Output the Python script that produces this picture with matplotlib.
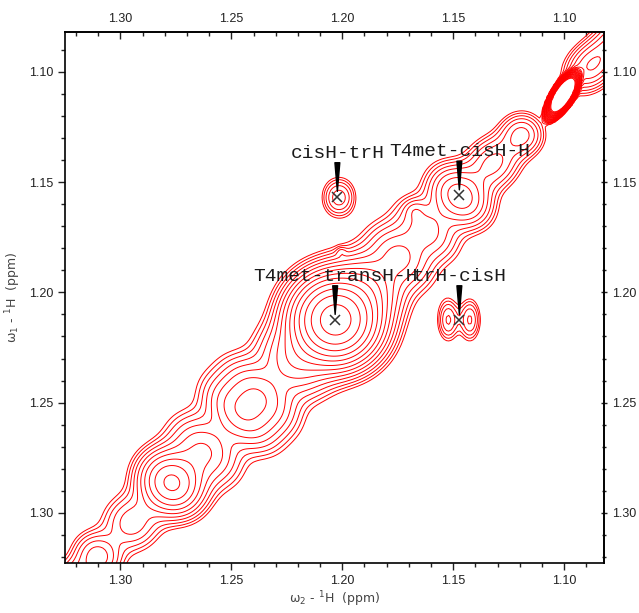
import numpy as np
import matplotlib
matplotlib.use('Agg')
import matplotlib.pyplot as plt
from matplotlib.ticker import FixedLocator, FormatStrFormatter

# diagonal peaks (w2 position, w1 = w2 + offset), height, width along / across diagonal
diag_offset = 0.0095
diag_x = [1.338, 1.322, 1.310, 1.295, 1.277, 1.262, 1.246, 1.237, 1.223, 1.203, 1.186, 1.174, 1.162, 1.147, 1.132, 1.119, 1.088, 1.075]
diag_amp = [5.0, 4.0, 5.0, 4.0, 16.0, 6.0, 7.0, 7.0, 6.0, 60.0, 6.0, 6.0, 5.0, 10.0, 5.0, 5.0, 6.0, 5.0]
diag_sa = [0.010, 0.008, 0.006, 0.008, 0.008, 0.008, 0.007, 0.007, 0.008, 0.011, 0.008, 0.007, 0.007, 0.007, 0.008, 0.006, 0.008, 0.008]
diag_sp = [0.006, 0.006, 0.007, 0.008, 0.009, 0.011, 0.012, 0.012, 0.011, 0.011, 0.010, 0.010, 0.010, 0.009, 0.007, 0.006, 0.006, 0.006]

# strongest diagonal peak, slightly tilted ellipse
big_x, big_y = 1.1005, 1.1105
big_amp = 15000.0
big_sl, big_ss = 0.0034, 0.0013
big_angle = 58

# off-diagonal peaks
off_x = [1.2038, 1.1992, 1.1522, 1.1425, 1.2005, 1.1674]
off_y = [1.157, 1.157, 1.2125, 1.2125, 1.1816, 1.1626]
off_amp = [2.4, 2.4, 3.5, 3.5, 1.15, 1.5]
off_sx = [0.0038, 0.0038, 0.0030, 0.0030, 0.0015, 0.003]
off_sy = [0.0055, 0.0055, 0.0060, 0.0060, 0.0015, 0.003]

# assigned peaks
peak_labels = ['cisH-trH', 'T4met-cisH-H', 'T4met-transH-H', 'trH-cisH']
peak_x = [1.2022, 1.1472, 1.2032, 1.1472]
peak_y = [1.1567, 1.1560, 1.2125, 1.2125]

# axis ticks (ppm)
major_ticks = [1.10, 1.15, 1.20, 1.25, 1.30]
minor_ticks = [1.09, 1.11, 1.12, 1.13, 1.14, 1.16, 1.17, 1.18, 1.19, 1.21,
               1.22, 1.23, 1.24, 1.26, 1.27, 1.28, 1.29, 1.31, 1.32]

x = np.arange(1.345, 1.065, -0.001)
y = np.arange(1.345, 1.065, -0.001)
X, Y = np.meshgrid(x, y)
Z = np.zeros_like(X)
for x0, a, sa, sp in zip(diag_x, diag_amp, diag_sa, diag_sp):
    dx = X - x0
    dy = Y - (x0 + diag_offset)
    du = (dx + dy) / np.sqrt(2)
    dv = (dy - dx) / np.sqrt(2)
    Z += a * np.exp(-0.5 * (du / sa) ** 2 - 0.5 * (dv / sp) ** 2)
th = np.radians(big_angle)
du = (X - big_x) * np.cos(th) + (Y - big_y) * np.sin(th)
dv = -(X - big_x) * np.sin(th) + (Y - big_y) * np.cos(th)
Z += big_amp * np.exp(-0.5 * (du / big_sl) ** 2 - 0.5 * (dv / big_ss) ** 2)
for x0, y0, a, sx, sy in zip(off_x, off_y, off_amp, off_sx, off_sy):
    Z += a * np.exp(-0.5 * ((X - x0) / sx) ** 2 - 0.5 * ((Y - y0) / sy) ** 2)

levels = 1.0 * 1.35 ** np.arange(22)

fig = plt.figure(figsize=(6.39, 6.13), dpi=100)
ax = fig.add_axes([0.1017, 0.0816, 0.8435, 0.8663])
ax.contour(X, Y, Z, levels=levels, colors='red', linewidths=0.7)

for lab, px, py in zip(peak_labels, peak_x, peak_y):
    ax.plot(px, py, marker='x', color='#333333', markersize=7, mew=1.1, ls='none')
    ax.annotate('', xy=(px, py - 0.0025), xytext=(px, py - 0.0155),
                arrowprops=dict(arrowstyle='wedge,tail_width=0.35,shrink_factor=0.5',
                                color='black', shrinkA=0, shrinkB=0))
    ax.text(px, py - 0.0178, lab, ha='center', va='baseline',
            fontfamily='Liberation Mono', fontsize=14, color='#1a1a1a')

ax.set_xlim(1.325, 1.082)
ax.set_ylim(1.3227, 1.0819)

secx = ax.secondary_xaxis('top')
secy = ax.secondary_yaxis('right')
for a in [ax.xaxis, ax.yaxis, secx.xaxis, secy.yaxis]:
    a.set_major_locator(FixedLocator(major_ticks))
    a.set_minor_locator(FixedLocator(minor_ticks))
    a.set_major_formatter(FormatStrFormatter('%.2f'))
ax.tick_params(which='both', direction='out', top=False, right=False,
               labelsize=9, colors='#222222', width=1.0)
secx.tick_params(which='both', direction='in', labelsize=9, colors='#222222', width=1.0, pad=5)
secy.tick_params(which='both', direction='inout', labelsize=9, colors='#222222', width=1.0, pad=3)
for a in [ax, secx, secy]:
    a.tick_params(which='major', length=5)
    a.tick_params(which='minor', length=3)
    for lbl in a.get_xticklabels() + a.get_yticklabels():
        lbl.set_fontfamily('Liberation Sans')
for s in ax.spines.values():
    s.set_linewidth(1.2)
secx.spines['top'].set_linewidth(1.2)
secy.spines['right'].set_linewidth(1.2)

ax.set_xlabel('ω$_2$ - $^1$H  (ppm)', fontsize=9, color='#444444', labelpad=2)
ax.set_ylabel('ω$_1$ - $^1$H  (ppm)', fontsize=9, color='#444444', labelpad=4)

fig.savefig('out.png', dpi=100)
